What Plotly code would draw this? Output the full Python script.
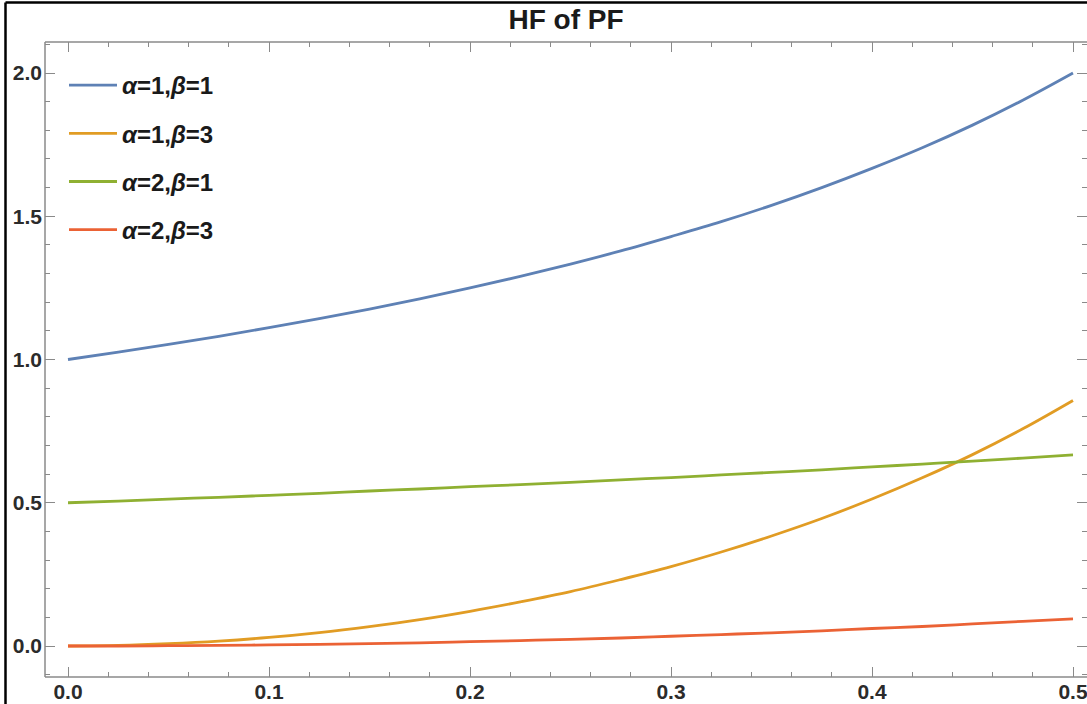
import plotly.graph_objects as go

# ---- data ----
x_vals = [0.0, 0.025, 0.05, 0.075, 0.1, 0.125, 0.15, 0.175, 0.2, 0.225, 0.25,
          0.275, 0.3, 0.325, 0.35, 0.375, 0.4, 0.425, 0.45, 0.475, 0.5]

a1_b1 = [1.000, 1.026, 1.053, 1.081, 1.111, 1.143, 1.176, 1.212, 1.250, 1.290, 1.333,
         1.379, 1.429, 1.481, 1.538, 1.600, 1.667, 1.739, 1.818, 1.905, 2.000]
a1_b3 = [0.000, 0.002, 0.008, 0.017, 0.030, 0.047, 0.068, 0.092, 0.121, 0.154, 0.190,
         0.232, 0.277, 0.328, 0.384, 0.445, 0.513, 0.587, 0.668, 0.758, 0.857]
a2_b1 = [0.500, 0.506, 0.513, 0.519, 0.526, 0.533, 0.541, 0.548, 0.556, 0.563, 0.571,
         0.580, 0.588, 0.597, 0.606, 0.615, 0.625, 0.635, 0.645, 0.656, 0.667]
a2_b3 = [0.000, 0.000, 0.001, 0.002, 0.004, 0.006, 0.008, 0.011, 0.015, 0.019, 0.023,
         0.028, 0.034, 0.040, 0.046, 0.053, 0.061, 0.068, 0.077, 0.086, 0.095]

series_names = ["<i>α</i>=1,<i>β</i>=1", "<i>α</i>=1,<i>β</i>=3",
                "<i>α</i>=2,<i>β</i>=1", "<i>α</i>=2,<i>β</i>=3"]
series_vals = [a1_b1, a1_b3, a2_b1, a2_b3]
colors = ["#5E81B5", "#E19C24", "#8FB032", "#EB6235"]

x_ticks = [0.0, 0.1, 0.2, 0.3, 0.4, 0.5]
x_ticktext = ["0.0", "0.1", "0.2", "0.3", "0.4", "0.5"]
y_ticks = [0.0, 0.5, 1.0, 1.5, 2.0]
y_ticktext = ["0.0", "0.5", "1.0", "1.5", "2.0"]

W, H = 1087, 704
L, R, T, B = 45, 0, 42, 27
PX0, PX1 = 68, 1073      # pixel of x=0 and x=0.5
PY0, PY2 = 646, 73       # pixel of y=0 and y=2
xs = 0.5 / (PX1 - PX0)
ys = 2.0 / (PY0 - PY2)
x_range = [(L - PX0) * xs, (W - R - PX0) * xs]
y_range = [-(H - B - PY0) * ys, (PY0 - T) * ys]

FRAME = "#8a8a8a"
FONT = "Liberation Sans"

fig = go.Figure()
for name, vals, c in zip(series_names, series_vals, colors):
    fig.add_trace(go.Scatter(x=x_vals, y=vals, mode="lines", name=name,
                             legendgroup=name,
                             line=dict(color=c, width=2.8, shape="spline")))

axis_common = dict(showgrid=False, zeroline=False, showline=False, automargin=False,
                   ticks="inside", mirror="ticks", tickcolor=FRAME, tickwidth=1.3,
                   ticklen=10, ticklabeloverflow="allow",
                   tickfont=dict(family=FONT, size=21, color="#2b2b2b", weight="bold"))

fig.update_xaxes(range=x_range, tickvals=x_ticks, ticktext=x_ticktext,
                 minor=dict(ticks="inside", dtick=0.02, tick0=0, ticklen=5,
                            tickcolor=FRAME, tickwidth=1.1),
                 ticklabelstandoff=0, **axis_common)
fig.update_yaxes(range=y_range, tickvals=y_ticks, ticktext=y_ticktext,
                 minor=dict(ticks="inside", dtick=0.1, tick0=0, ticklen=5,
                            tickcolor=FRAME, tickwidth=1.1),
                 ticklabelstandoff=2, **axis_common)

# frame lines (left, top, bottom) and outer black border
fig.add_shape(type="line", xref="paper", yref="paper", x0=0, x1=0, y0=0, y1=1,
              line=dict(color=FRAME, width=1.5))
fig.add_shape(type="line", xref="paper", yref="paper", x0=0, x1=1, y0=1, y1=1,
              line=dict(color=FRAME, width=1.5))
fig.add_shape(type="line", xref="paper", yref="paper", x0=0, x1=1, y0=0, y1=0,
              line=dict(color=FRAME, width=1.5))
pw = W - L - R
ph = H - T - B
bx = (5.5 - L) / pw
by = (H - B - 2.5) / ph
fig.add_shape(type="line", xref="paper", yref="paper", x0=bx, x1=bx, y0=by, y1=-B / ph - 0.01,
              line=dict(color="black", width=2.5))
fig.add_shape(type="line", xref="paper", yref="paper", x0=bx, x1=1.01, y0=by, y1=by,
              line=dict(color="black", width=2.5))

fig.update_layout(
    width=W, height=H,
    margin=dict(l=L, r=R, t=T, b=B, autoexpand=False),
    paper_bgcolor="white", plot_bgcolor="white",
    title=dict(text="HF of PF", xref="paper", x=0.5, xanchor="center",
               yref="container", y=1 - 19 / H, yanchor="middle",
               font=dict(family=FONT, size=28, color="#1a1a1a", weight="bold")),
    showlegend=True,
    legend=dict(x=(64 - L) / pw, xanchor="left", y=(H - B - 63) / ph, yanchor="top",
                bgcolor="rgba(0,0,0,0)", borderwidth=0, tracegroupgap=14,
                itemwidth=48,
                font=dict(family=FONT, size=24, color="#1a1a1a", weight="bold")),
)

fig.write_html("out.html")
